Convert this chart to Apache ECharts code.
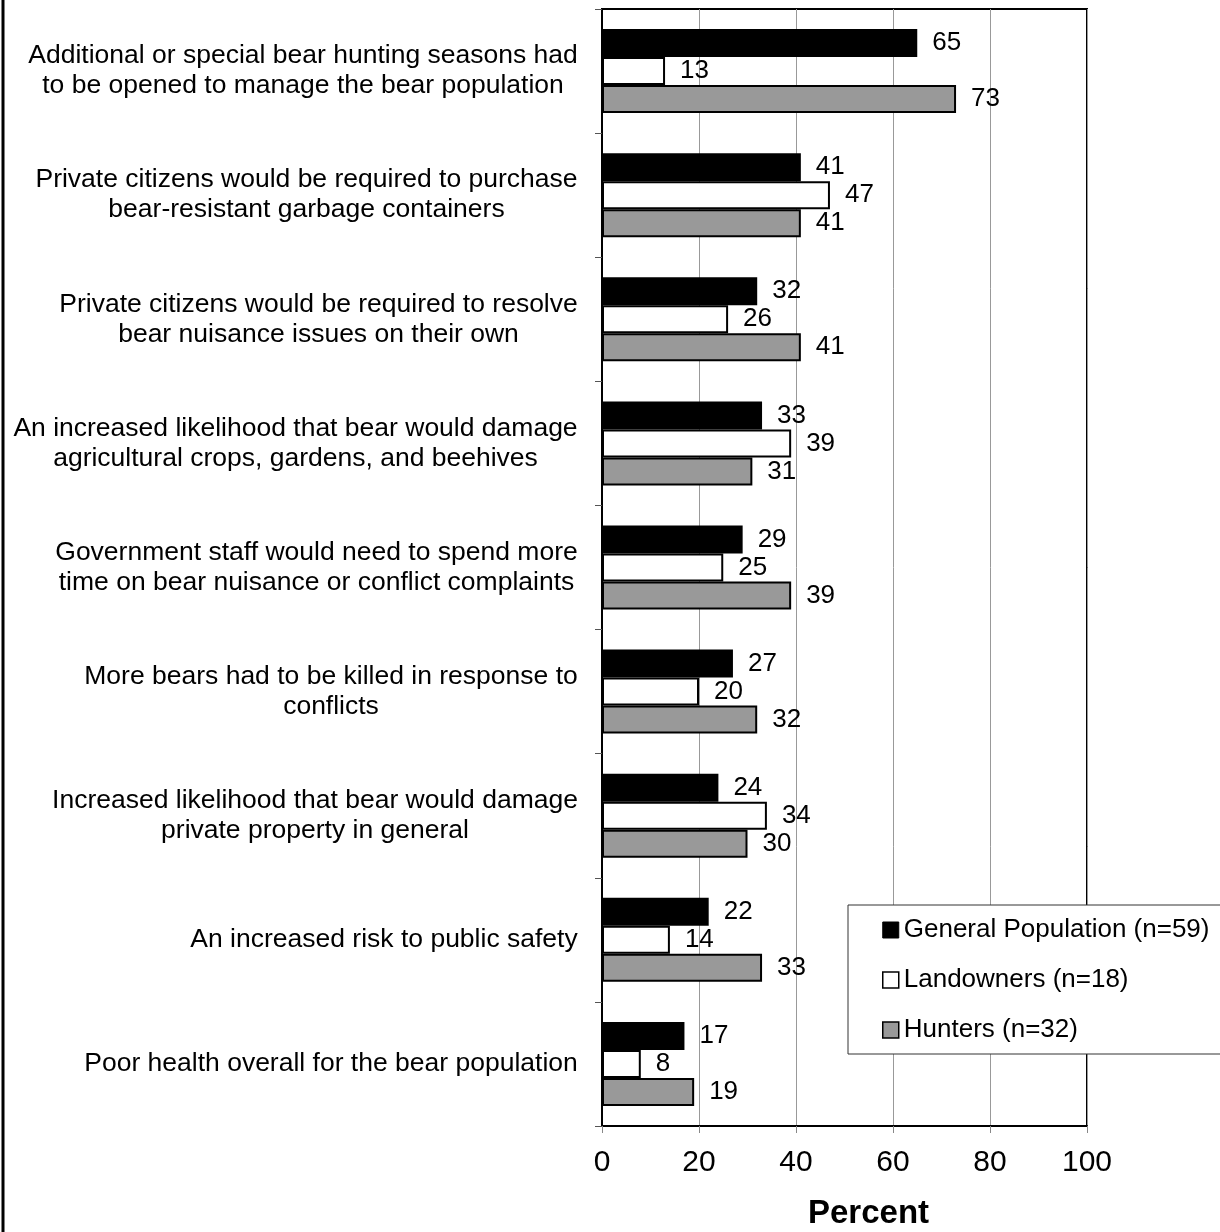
<!DOCTYPE html>
<html>
<head>
<meta charset="utf-8">
<script src="https://cdn.jsdelivr.net/npm/echarts@6/dist/echarts.min.js"></script>
<style>
html,body{margin:0;padding:0;background:#fff;}
#chart{width:1220px;height:1232px;}
</style>
</head>
<body>
<div id="chart"></div>
<script>
const categories = [
  "Additional or special bear hunting seasons had\nto be opened to manage the bear population",
  "Private citizens would be required to purchase\nbear-resistant garbage containers",
  "Private citizens would be required to resolve\nbear nuisance issues on their own",
  "An increased likelihood that bear would damage\nagricultural crops, gardens, and beehives",
  "Government staff would need to spend more\ntime on bear nuisance or conflict complaints",
  "More bears had to be killed in response to\nconflicts",
  "Increased likelihood that bear would damage\nprivate property in general",
  "An increased risk to public safety",
  "Poor health overall for the bear population"
];
const seriesNames = ["General Population (n=59)", "Landowners (n=18)", "Hunters (n=32)"];
const generalPopulation = [65, 41, 32, 33, 29, 27, 24, 22, 17];
const landowners = [13, 47, 26, 39, 25, 20, 34, 14, 8];
const hunters = [73, 41, 41, 31, 39, 32, 30, 33, 19];
const xTicks = [0, 20, 40, 60, 80, 100];

const FONT = '"Liberation Sans", Arial, Helvetica, sans-serif';
const CAT_SIZE = 26.5;

// measure to center wrapped lines as a right-aligned block
const ctx = document.createElement('canvas').getContext('2d');
ctx.font = CAT_SIZE + 'px "Liberation Sans"';
const rich = {};
categories.forEach((c, i) => {
  const w = Math.max(...c.split('\n').map(l => ctx.measureText(l).width));
  rich['c' + i] = {width: Math.ceil(w), align: 'center', fontSize: CAT_SIZE, fontFamily: FONT, color: '#000', lineHeight: 30};
});

const chart = echarts.init(document.getElementById('chart'), null, {renderer: 'canvas'});
const labelCfg = {show: true, position: 'right', distance: 15, fontSize: 26, fontFamily: FONT, color: '#000'};
chart.setOption({
  backgroundColor: '#fff',
  animation: false,
  textStyle: {fontFamily: FONT},
  grid: {left: 602, right: 133, top: 9, bottom: 106, show: true, borderColor: '#000', borderWidth: 2,
         backgroundColor: 'transparent', containLabel: false, outerBoundsMode: 'none'},
  legend: {
    orient: 'vertical', left: 848, top: 905,
    padding: [12, 12, 11, 34], itemGap: 24,
    itemWidth: 16, itemHeight: 16, icon: 'rect',
    backgroundColor: '#fff', borderColor: '#333', borderWidth: 1, borderRadius: 0,
    textStyle: {fontSize: 26, fontFamily: FONT, color: '#000'},
    data: [
      {name: seriesNames[0], itemStyle: {color: '#000', borderColor: '#000', borderWidth: 1}},
      {name: seriesNames[1], itemStyle: {color: '#fff', borderColor: '#000', borderWidth: 1.5}},
      {name: seriesNames[2], itemStyle: {color: '#999', borderColor: '#000', borderWidth: 1.5}}
    ]
  },
  xAxis: {
    type: 'value', min: 0, max: 100, interval: 20,
    name: 'Percent', nameLocation: 'middle', nameGap: 71,
    nameTextStyle: {fontSize: 33, fontWeight: 'bold', fontFamily: FONT, color: '#000', padding: [0, 0, 0, 48]},
    axisLine: {show: true, lineStyle: {color: '#000', width: 2}},
    axisTick: {show: true, length: 7, lineStyle: {color: '#888', width: 1}},
    axisLabel: {fontSize: 30, fontFamily: FONT, color: '#000', margin: 22,
      formatter: v => xTicks.indexOf(v) >= 0 ? String(v) : ''},
    splitLine: {show: true, lineStyle: {color: '#999', width: 1}}
  },
  yAxis: {
    type: 'category', data: categories, inverse: true,
    axisLine: {show: true, lineStyle: {color: '#000', width: 2}},
    axisTick: {show: true, length: 7, lineStyle: {color: '#555', width: 1}},
    axisLabel: {
      margin: 24, fontSize: CAT_SIZE, fontFamily: FONT, color: '#000',
      formatter: (v, i) => v.split('\n').map(l => '{c' + i + '|' + l + '}').join('\n'),
      rich: rich
    },
    splitLine: {show: false}
  },
  series: [
    {name: seriesNames[0], type: 'bar', data: generalPopulation, barWidth: 28, barGap: '0%',
     itemStyle: {color: '#000', borderColor: '#000', borderWidth: 0}, label: labelCfg},
    {name: seriesNames[1], type: 'bar', data: landowners, barWidth: 28, barGap: '0%',
     itemStyle: {color: '#fff', borderColor: '#000', borderWidth: 2}, label: labelCfg},
    {name: seriesNames[2], type: 'bar', data: hunters, barWidth: 28, barGap: '0%',
     itemStyle: {color: '#999', borderColor: '#000', borderWidth: 2}, label: labelCfg}
  ],
  graphic: [
    {type: 'line', shape: {x1: 3, y1: 0, x2: 3, y2: 1232}, style: {stroke: '#000', lineWidth: 3}}
  ]
});
</script>
</body>
</html>
